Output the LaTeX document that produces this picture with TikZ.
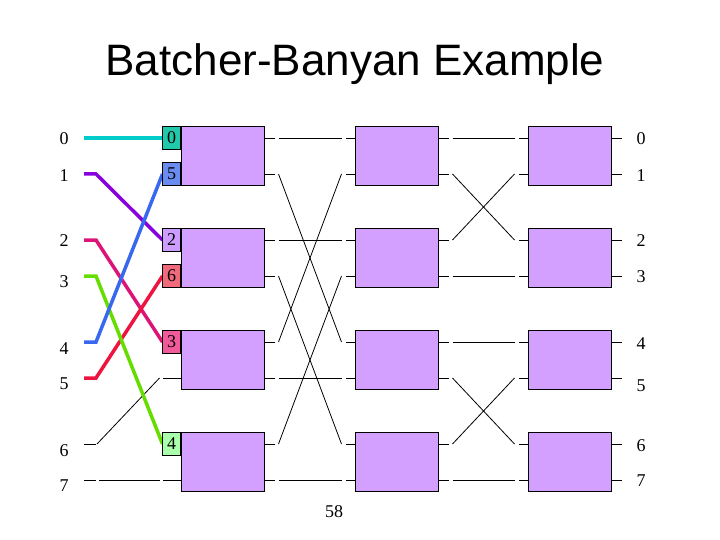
\documentclass[tikz,border=0pt]{standalone}
\usepackage{fontspec}
\setmainfont{Liberation Serif}
\newfontfamily\titlefont{Liberation Sans}
\usepackage{tikz}
\usetikzlibrary{positioning, calc}

\definecolor{swfill}{HTML}{D4A0FF}
\definecolor{tgteal}{HTML}{22C8AA}
\definecolor{tgblue}{HTML}{6A8CF0}
\definecolor{tglilac}{HTML}{CC9CFF}
\definecolor{tgsalmon}{HTML}{F06A7C}
\definecolor{tgpink}{HTML}{F05A9A}
\definecolor{tggreen}{HTML}{AAFFAA}
\definecolor{lncyan}{HTML}{00CCCC}
\definecolor{lnblue}{HTML}{3868EE}
\definecolor{lnpurple}{HTML}{8800DD}
\definecolor{lnred}{HTML}{EE1440}
\definecolor{lnmagenta}{HTML}{DD1478}
\definecolor{lngreen}{HTML}{66DD00}

\begin{document}
\begin{tikzpicture}[
                x=1pt, y=-1pt,
                swbox/.style={draw=black, line width=1.2pt, rectangle, fill=swfill, minimum width=83pt, minimum height=59pt, inner sep=0pt, outer sep=0pt},
                celltag/.style={draw=black, line width=1pt, rectangle, anchor=west, minimum width=18pt, minimum height=23pt, inner sep=0pt, outer sep=0pt, font=\fontsize{18}{20}\selectfont},
                stub/.style={line width=0.8pt},
                wire/.style={line width=0.8pt},
                route/.style={line width=3.5pt},
                num/.style={font=\fontsize{18}{20}\selectfont},
                headline/.style={font=\titlefont\fontsize{44}{50}\selectfont}
            ]

            \useasboundingbox (0,0) rectangle (720,540);

            % Titel
            \node[headline, anchor=base] (title) at (355,76) {Batcher-Banyan Example};

            % Schalter mit Anschluessen
            \foreach \c/\x/\l in {1/223/19, 2/397/10, 3/570/10}
              \foreach \r/\y in {0/156, 1/258, 2/360, 3/462} {
                \node[swbox] (S\c\r) at (\x,\y) {};
                \pgfmathtruncatemacro\pa{2*\r}
                \pgfmathtruncatemacro\pb{2*\r+1}
                \draw[stub] ([yshift=18pt]S\c\r.west) -- ++(-\l,0) coordinate (I\c-\pa);
                \draw[stub] ([yshift=-18pt]S\c\r.west) -- ++(-\l,0) coordinate (I\c-\pb);
                \draw[stub] ([yshift=18pt]S\c\r.east) -- ++(10,0) coordinate (O\c-\pa);
                \draw[stub] ([yshift=-18pt]S\c\r.east) -- ++(10,0) coordinate (O\c-\pb);
              }

            % Eingaenge
            \foreach \k/\y/\ly in {0/138/139, 1/174/176, 2/240/241, 3/276/282, 4/342/349, 5/378/384, 6/444/451, 7/480/486} {
                \node[num] (in\k) at (64,\ly) {\k};
                \draw[stub] (84,\y) coordinate (E\k-s) -- ++(12,0) coordinate (E\k);
            }

            % Ausgaenge
            \foreach \k/\ly in {0/139, 1/176, 2/241, 3/277, 4/344, 5/386, 6/446, 7/481}
                \node[num] (out\k) at (641,\ly) {\k};

            % Kanten zwischen den Stufen
            \foreach \a/\b in {0/0, 1/4, 2/2, 3/6, 4/1, 5/5, 6/3, 7/7}
                \draw[wire] ([xshift=4pt]O1-\a) -- ([xshift=-4pt]I2-\b);
            \foreach \a/\b in {0/0, 1/2, 2/1, 3/3, 4/4, 5/6, 6/5, 7/7}
                \draw[wire] ([xshift=4pt]O2-\a) -- ([xshift=-4pt]I3-\b);

            % Eingaenge zum Sortiernetz
            \draw[wire] ([xshift=1pt]E6) -- ([xshift=-3pt]I1-5);
            \draw[wire] ([xshift=3pt]E7) -- ([xshift=-3pt]I1-7);
            \draw[route, draw=lncyan] (E0-s) -- (E0) -- (I1-0);
            \draw[route, draw=lnpurple] (E1-s) -- (E1) -- (I1-2);
            \draw[route, draw=lnmagenta] (E2-s) -- (E2) -- (I1-4);
            \draw[route, draw=lnred] (E5-s) -- (E5) -- (I1-3);
            \draw[route, draw=lngreen] (E3-s) -- (E3) -- (I1-6);
            \draw[route, draw=lnblue] (E4-s) -- (E4) -- (I1-1);

            % Zieladressen
            \node[celltag, fill=tgteal] (T0) at (I1-0) {0};
            \node[celltag, fill=tgblue] (T1) at (I1-1) {5};
            \node[celltag, fill=tglilac] (T2) at (I1-2) {2};
            \node[celltag, fill=tgsalmon] (T3) at (I1-3) {6};
            \node[celltag, fill=tgpink] (T4) at (I1-4) {3};
            \node[celltag, fill=tggreen] (T6) at (I1-6) {4};

            % Seitenzahl
            \node[num] (page) at (334,512) {58};

        \end{tikzpicture}
\end{document}
